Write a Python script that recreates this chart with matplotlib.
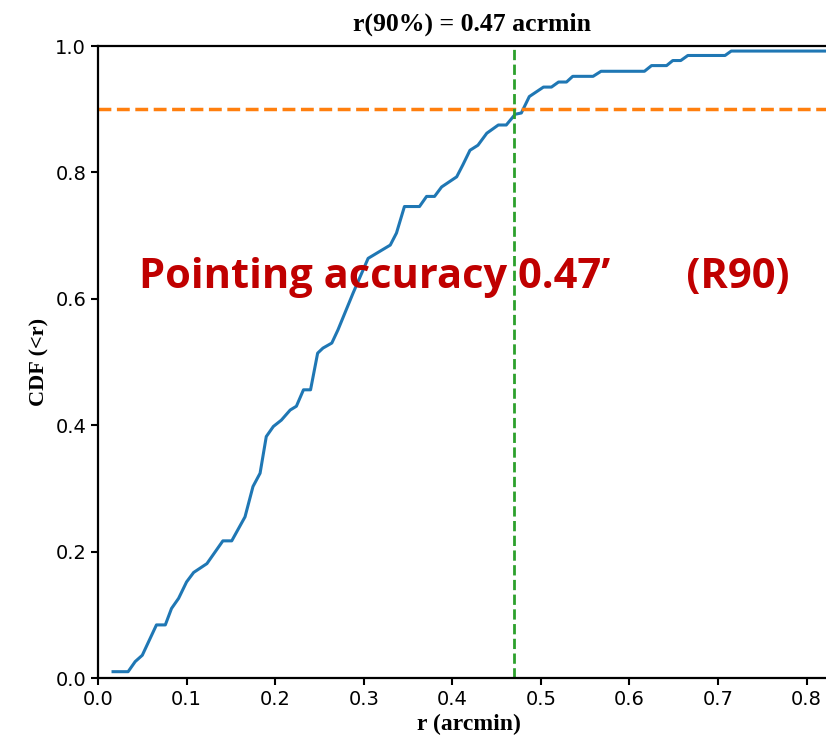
import matplotlib.pyplot as plt

# CDF of pointing offsets
r = [0.017, 0.034, 0.042, 0.050, 0.066, 0.076, 0.083, 0.091, 0.100, 0.108,
     0.123, 0.141, 0.151, 0.166, 0.175, 0.183, 0.190, 0.198, 0.207, 0.217,
     0.224, 0.232, 0.240, 0.248, 0.254, 0.264, 0.271, 0.288, 0.305, 0.330,
     0.337, 0.346, 0.363, 0.371, 0.380, 0.388, 0.405, 0.412, 0.420, 0.429,
     0.439, 0.452, 0.461, 0.471, 0.478, 0.487, 0.503, 0.512, 0.520, 0.529,
     0.536, 0.559, 0.568, 0.617, 0.625, 0.642, 0.649, 0.658, 0.666, 0.708,
     0.715, 0.822]
cdf = [0.010, 0.010, 0.026, 0.036, 0.084, 0.084, 0.110, 0.126, 0.152, 0.167,
       0.181, 0.217, 0.217, 0.255, 0.303, 0.324, 0.382, 0.398, 0.408, 0.424,
       0.430, 0.456, 0.456, 0.514, 0.522, 0.530, 0.551, 0.609, 0.664, 0.685,
       0.704, 0.746, 0.746, 0.762, 0.762, 0.777, 0.793, 0.812, 0.835, 0.843,
       0.862, 0.875, 0.875, 0.892, 0.894, 0.920, 0.935, 0.935, 0.943, 0.943,
       0.952, 0.952, 0.960, 0.960, 0.969, 0.969, 0.977, 0.977, 0.985, 0.985,
       0.992, 0.992]

r90 = 0.47
level = 0.9

fig = plt.figure(figsize=(8.26, 7.51), dpi=100)
ax = fig.add_axes([98 / 826, 73 / 751, 728 / 826, 632 / 751])

ax.plot(r, cdf, color="tab:blue", lw=2.2)
ax.axhline(level, color="tab:orange", ls="--", lw=2.5)
ax.axvline(r90, color="tab:green", ls="--", lw=2)

ax.set_xlim(0, 0.822)
ax.set_ylim(0, 1.0)
ax.set_xticks([0.0, 0.1, 0.2, 0.3, 0.4, 0.5, 0.6, 0.7, 0.8])
ax.set_yticks([0.0, 0.2, 0.4, 0.6, 0.8, 1.0])
ax.tick_params(labelsize=14, width=1.5, length=5)
ax.spines["right"].set_visible(False)
for s in ["left", "top", "bottom"]:
    ax.spines[s].set_linewidth(1.6)

ax.set_title("r(90%) = 0.47 acrmin", fontsize=18.5, fontweight="bold",
             family="Liberation Serif", pad=11, x=0.514)
ax.set_xlabel("r (arcmin)", fontsize=17, fontweight="bold", family="Liberation Serif")
ax.xaxis.label.set_x(0.51)
ax.set_ylabel("CDF (<r)", fontsize=16, fontweight="bold", family="Liberation Serif")

ax.text(0.046, 0.633, "Pointing accuracy 0.47\u2019       (R90)", color="#C00000",
        fontsize=30, fontweight="bold", family="Open Sans",
        transform=ax.transData, va="center", ha="left")

plt.savefig("out.png", dpi=100)
